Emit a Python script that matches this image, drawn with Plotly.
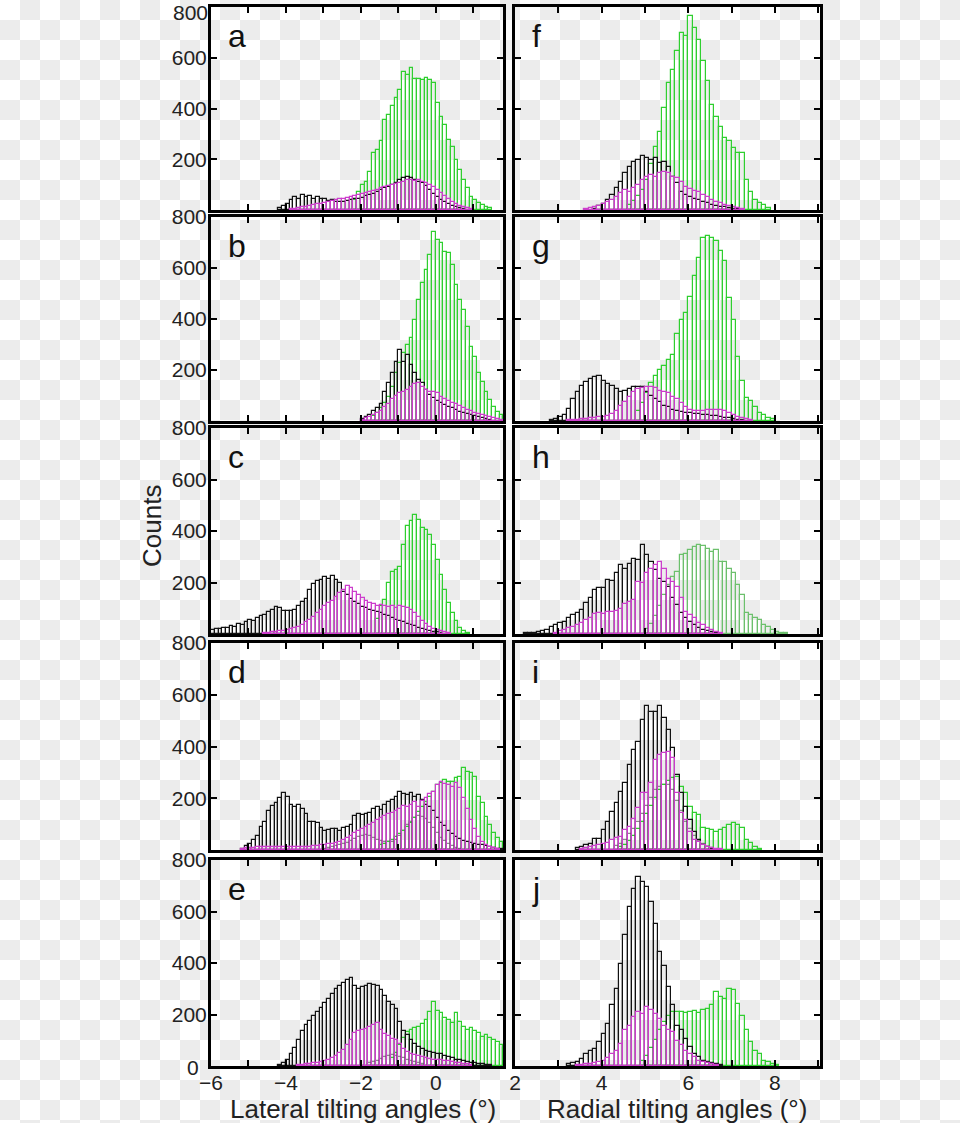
import plotly.graph_objects as go

BIN = 0.1

# ---------------- data (left bin edge of first bin, counts per 0.1 deg bin) ----------------
# Panel a (lateral)
a_green_start = -2.2
a_green = [40, 72, 99, 112, 151, 224, 237, 270, 355, 375, 408, 441, 471, 542, 533, 559, 518, 518, 513,
           520, 513, 500, 421, 368, 335, 276, 250, 197, 158, 118, 86, 53, 39, 26, 20, 12, 6]
a_black_start = -4.2
a_black = [8, 15, 25, 40, 50, 45, 58, 50, 55, 45, 52, 42, 45, 35, 38, 30, 32, 30, 35, 38, 42, 45, 48, 55,
           60, 65, 72, 80, 85, 92, 100, 108, 118, 125, 132, 128, 120, 112, 105, 95, 80, 65, 50, 40, 30,
           22, 15, 10, 6, 3]
a_magenta_start = -3.9
a_magenta = [3, 5, 8, 10, 12, 15, 18, 22, 25, 28, 32, 35, 38, 42, 45, 48, 52, 56, 60, 64, 68, 72, 76, 80,
             85, 90, 94, 98, 102, 108, 112, 118, 120, 115, 118, 110, 105, 100, 92, 80, 68, 55, 42, 32,
             22, 15, 10, 6, 3]

# Panel b
b_green_start = -1.7
b_green = [20, 33, 50, 69, 95, 135, 187, 226, 265, 298, 324, 396, 474, 540, 592, 651, 742, 710, 697,
           664, 657, 612, 533, 474, 435, 370, 291, 252, 187, 154, 115, 82, 56, 37, 24, 17]
b_black_start = -2.0
b_black = [8, 15, 25, 38, 50, 68, 115, 148, 187, 233, 278, 233, 259, 220, 187, 161, 148, 121, 102, 90,
           80, 70, 62, 55, 50, 42, 37, 32, 28, 24, 20, 17, 12, 8, 5]
b_magenta_start = -2.0
b_magenta = [5, 10, 15, 22, 30, 40, 55, 68, 85, 100, 110, 115, 121, 135, 145, 148, 135, 121, 115, 115,
             111, 95, 85, 78, 72, 66, 58, 52, 45, 38, 32, 26, 22, 18, 14, 10, 7, 4]

# Panel c
c_green_start = -1.6
c_green = [60, 107, 133, 200, 240, 250, 262, 346, 419, 440, 462, 442, 410, 404, 384, 346, 288, 230,
           172, 120, 81, 49, 23, 10, 4]
c_black_start = -6.0
c_black = [15, 20, 18, 25, 22, 30, 28, 38, 35, 45, 55, 52, 62, 70, 75, 85, 95, 105, 100, 88, 90, 88,
           92, 110, 125, 135, 170, 195, 205, 210, 220, 215, 226, 210, 200, 165, 150, 135, 125, 115,
           105, 100, 95, 90, 85, 80, 75, 70, 62, 55, 50, 45, 40, 35, 30, 25, 20, 15, 12, 8, 6, 4]
c_magenta_start = -4.6
c_magenta = [3, 5, 6, 8, 10, 12, 15, 18, 22, 28, 35, 45, 55, 65, 80, 95, 110, 120, 130, 145, 160, 170,
             188, 180, 165, 150, 140, 130, 120, 115, 110, 112, 108, 105, 108, 102, 110, 105, 100, 95,
             80, 65, 50, 38, 28, 20, 14, 10, 6, 3]

# Panel d
d_green_start = -1.5
d_green = [20, 25, 30, 40, 50, 60, 75, 90, 105, 125, 145, 165, 185, 205, 226, 250, 258, 271, 264, 264,
           277, 284, 316, 303, 297, 284, 206, 181, 129, 97, 65, 45, 30]
d_black_start = -5.2
d_black = [5, 15, 25, 40, 55, 90, 110, 150, 170, 180, 200, 222, 205, 175, 165, 175, 160, 140, 110, 108,
           105, 85, 72, 78, 82, 80, 72, 85, 90, 97, 130, 140, 135, 140, 142, 160, 168, 155, 175, 185,
           195, 206, 226, 215, 213, 219, 206, 213, 195, 175, 165, 150, 125, 105, 92, 75, 62, 52, 42,
           35, 30, 28, 25, 20, 18, 14, 10, 8, 5, 3]
d_magenta_start = -5.2
d_magenta = [5, 6, 8, 8, 10, 10, 12, 10, 12, 10, 12, 12, 10, 12, 10, 12, 10, 12, 12, 14, 15, 18, 20,
             22, 25, 28, 32, 38, 45, 55, 65, 72, 80, 90, 98, 105, 115, 125, 130, 138, 142, 150, 160,
             170, 165, 175, 185, 168, 190, 200, 215, 225, 250, 264, 255, 250, 245, 258, 240, 200, 160,
             116, 80, 50, 30, 18, 10, 6, 3]
d_gray_start = -3.0
d_gray = [5, 8, 10, 14, 18, 22, 28, 35, 42, 50, 55, 58, 55, 48, 40, 35, 32, 30, 32, 40, 55, 75, 95,
          110, 125, 130, 128, 120, 105, 85, 65, 48, 35, 25, 15, 8, 4]

# Panel e
e_green_start = -1.2
e_green = [30, 50, 80, 110, 133, 140, 146, 153, 165, 179, 211, 250, 215, 205, 185, 179, 166, 204, 170,
           150, 140, 146, 135, 127, 114, 120, 107, 100, 94, 80, 69]
e_black_start = -4.2
e_black = [5, 12, 22, 45, 70, 100, 135, 160, 175, 195, 208, 225, 245, 262, 280, 300, 312, 322, 335, 340,
           310, 298, 305, 312, 318, 314, 310, 295, 270, 250, 238, 220, 170, 135, 120, 100, 85, 72, 65,
           60, 55, 52, 48, 45, 40, 36, 30, 25, 22, 18, 15, 12, 10, 8, 6, 4, 3]
e_magenta_start = -3.7
e_magenta = [3, 5, 6, 8, 10, 12, 15, 20, 25, 32, 40, 50, 62, 80, 100, 127, 135, 140, 145, 150, 159, 166,
             140, 125, 115, 105, 100, 85, 65, 55, 48, 43, 40, 35, 32, 28, 25, 23, 22, 20, 18, 15, 12,
             10, 8, 6, 4]
e_gray_start = -1.8
e_gray = [10, 15, 20, 28, 35, 40, 42, 40, 35, 30, 25, 20, 15, 10, 6]

# Panel f (radial)
f_green_start = 4.6
f_green = [20, 35, 55, 80, 120, 180, 250, 309, 401, 500, 553, 625, 697, 684, 763, 717, 671, 586, 507,
           415, 368, 329, 283, 270, 243, 224, 224, 118, 72, 39, 26, 20, 7]
f_black_start = 3.8
f_black = [5, 15, 25, 40, 60, 86, 112, 145, 171, 191, 197, 211, 204, 197, 204, 184, 191, 171, 132, 105,
           72, 60, 53, 45, 39, 33, 26, 20, 15, 13, 10, 7, 5, 3]
f_magenta_start = 3.6
f_magenta = [3, 6, 10, 15, 22, 30, 40, 53, 68, 79, 72, 85, 99, 118, 132, 138, 132, 145, 151, 145, 132,
             125, 112, 90, 82, 76, 70, 60, 50, 40, 32, 26, 20, 14, 10, 6, 3]

# Panel g
g_green_start = 4.8
g_green = [40, 70, 110, 150, 175, 200, 215, 238, 260, 340, 396, 422, 486, 568, 640, 719, 726, 719, 706,
           667, 627, 482, 396, 251, 158, 92, 79, 53, 33, 24, 13, 6]
g_black_start = 2.8
g_black = [4, 8, 15, 25, 46, 86, 112, 139, 152, 165, 172, 178, 158, 145, 139, 125, 112, 119, 125, 132,
           135, 132, 115, 99, 86, 73, 60, 53, 45, 40, 36, 33, 30, 28, 26, 24, 22, 20, 18, 15, 12, 10,
           7, 5, 3]
g_magenta_start = 3.2
g_magenta = [3, 4, 5, 6, 8, 10, 12, 14, 17, 20, 26, 40, 59, 75, 95, 112, 125, 130, 135, 132, 128, 118,
             112, 108, 95, 88, 70, 55, 45, 40, 38, 40, 42, 45, 44, 42, 38, 30, 22, 15, 10, 6, 3]

# Panel h
h_green_start = 5.0
h_green = [20, 40, 70, 110, 150, 190, 220, 241, 306, 312, 325, 338, 344, 340, 331, 319, 325, 280, 280,
           254, 235, 190, 151, 80, 74, 61, 54, 35, 28, 15, 9, 5, 3]
h_black_start = 2.2
h_black = [2, 3, 5, 8, 12, 15, 28, 35, 41, 48, 61, 74, 80, 93, 119, 138, 170, 177, 177, 209, 205, 235,
           267, 254, 273, 293, 286, 344, 306, 280, 250, 215, 202, 183, 138, 112, 80, 61, 45, 35, 25,
           15, 10, 6, 3]
h_magenta_start = 2.9
h_magenta = [5, 10, 15, 22, 28, 35, 41, 55, 61, 76, 80, 78, 86, 84, 89, 97, 115, 125, 132, 202, 200,
             235, 254, 267, 280, 254, 215, 202, 183, 138, 86, 74, 61, 41, 35, 22, 15, 8, 4]

# Panel i
i_green_start = 4.4
i_green = [10, 20, 35, 55, 80, 110, 140, 170, 200, 230, 250, 265, 280, 284, 245, 219, 168, 142, 135,
           84, 80, 77, 71, 77, 84, 97, 103, 97, 84, 39, 26, 10, 4]
i_black_start = 3.4
i_black = [6, 12, 19, 23, 41, 41, 77, 110, 148, 181, 226, 258, 329, 387, 419, 503, 555, 535, 535, 555,
           510, 464, 393, 290, 219, 168, 116, 71, 39, 19, 10, 5]
i_magenta_start = 3.5
i_magenta = [5, 8, 10, 14, 19, 22, 28, 39, 45, 52, 77, 90, 120, 161, 219, 219, 260, 348, 368, 374, 380,
             355, 219, 142, 116, 71, 39, 32, 19, 12, 8, 5, 3]
i_gray_start = 4.3
i_gray = [15, 25, 40, 60, 80, 110, 140, 170, 200, 230, 245, 250, 250, 230, 190, 150, 110, 80, 55, 35,
          22, 12, 6]

# Panel j
j_green_start = 4.9
j_green = [20, 40, 70, 100, 140, 170, 195, 209, 209, 209, 205, 209, 213, 205, 216, 222, 235, 287, 268,
           261, 300, 294, 242, 196, 138, 93, 60, 45, 21, 15, 8, 4]
j_black_start = 3.2
j_black = [8, 11, 17, 28, 47, 60, 67, 93, 125, 164, 235, 300, 397, 507, 617, 688, 734, 714, 695, 636,
           552, 442, 390, 306, 235, 157, 138, 106, 73, 47, 34, 21, 15, 11, 6, 3]
j_magenta_start = 3.4
j_magenta = [3, 5, 7, 8, 10, 15, 21, 30, 47, 60, 86, 138, 157, 190, 209, 203, 229, 216, 203, 183, 157,
             138, 131, 99, 80, 60, 47, 34, 21, 15, 11, 6, 3]

panel_letters = ["a", "b", "c", "d", "e", "f", "g", "h", "i", "j"]
x_title_left = "Lateral tilting angles (°)"
x_title_right = "Radial tilting angles (°)"
y_title = "Counts"
x_ticks_left = [-6, -5, -4, -3, -2, -1, 0, 1, 2]
x_ticks_right = [2, 3, 4, 5, 6, 7, 8, 9]
y_ticks = [0, 200, 400, 600, 800]

# ---------------- styling ----------------
COL = {
    "green": "#2fcf2f",
    "green_h": "#6cc06c",
    "black": "#111111",
    "magenta": "#cc3dcc",
    "gray": "#8a8a8a",
}
FONT = "Liberation Sans, Arial, Helvetica, sans-serif"
TXT = "#222222"
W, H = 960, 1123
ML, MR, MT, MB = 211, 140, 7, 57
PW, PH = W - ML - MR, H - MT - MB

def px2x(px):
    return (px - ML) / PW

def py2y(py):
    return 1 - (py - MT) / PH

col_px = [(211, 503), (515, 820)]
row_px = [(7, 210), (217, 421), (428, 634), (643, 850), (860, 1066)]

panels = {
    "a": [("green", a_green_start, a_green), ("black", a_black_start, a_black), ("magenta", a_magenta_start, a_magenta)],
    "b": [("green", b_green_start, b_green), ("black", b_black_start, b_black), ("magenta", b_magenta_start, b_magenta)],
    "c": [("green", c_green_start, c_green), ("black", c_black_start, c_black), ("magenta", c_magenta_start, c_magenta)],
    "d": [("gray", d_gray_start, d_gray), ("green", d_green_start, d_green), ("black", d_black_start, d_black), ("magenta", d_magenta_start, d_magenta)],
    "e": [("gray", e_gray_start, e_gray), ("green", e_green_start, e_green), ("black", e_black_start, e_black), ("magenta", e_magenta_start, e_magenta)],
    "f": [("green", f_green_start, f_green), ("black", f_black_start, f_black), ("magenta", f_magenta_start, f_magenta)],
    "g": [("green", g_green_start, g_green), ("black", g_black_start, g_black), ("magenta", g_magenta_start, g_magenta)],
    "h": [("green_h", h_green_start, h_green), ("black", h_black_start, h_black), ("magenta", h_magenta_start, h_magenta)],
    "i": [("gray", i_gray_start, i_gray), ("green", i_green_start, i_green), ("black", i_black_start, i_black), ("magenta", i_magenta_start, i_magenta)],
    "j": [("green", j_green_start, j_green), ("black", j_black_start, j_black), ("magenta", j_magenta_start, j_magenta)],
}

fig = go.Figure()
layout = dict(
    width=W, height=H, autosize=False,
    margin=dict(l=ML, r=MR, t=MT, b=MB, autoexpand=False),
    paper_bgcolor="white", plot_bgcolor="rgba(0,0,0,0)",
    showlegend=False, barmode="overlay", bargap=0,
    font=dict(family=FONT, color=TXT, size=21),
)
annotations = []

for idx, letter in enumerate(panel_letters):
    n = idx + 1
    col = 0 if idx < 5 else 1
    row = idx % 5
    xa = "x" if n == 1 else f"x{n}"
    ya = "y" if n == 1 else f"y{n}"
    for key, start, counts in panels[letter]:
        centers = [start + BIN * (k + 0.5) for k in range(len(counts))]
        fig.add_trace(go.Bar(
            x=centers, y=counts, width=BIN,
            marker=dict(color="rgba(0,0,0,0)", line=dict(color=COL[key], width=1.2)),
            xaxis=xa, yaxis=ya, hoverinfo="skip",
        ))
    xd = [px2x(col_px[col][0]), px2x(col_px[col][1])]
    yd = [py2y(row_px[row][1]), py2y(row_px[row][0])]
    bottom = row == 4
    if col == 0:
        xt = x_ticks_left
        xr = [-6, 1.79]
    else:
        xt = x_ticks_right
        xr = [2, 9.04]
    xtext = [("\u2212" + str(-v) if v < 0 else str(v)) if v % 2 == 0 else "" for v in xt]
    axis_common = dict(
        showline=True, linewidth=3, linecolor="black", mirror="allticks",
        ticks="inside", ticklen=6, tickwidth=2, tickcolor="black",
        showgrid=False, zeroline=False, fixedrange=True, automargin=False,
        tickfont=dict(family=FONT, size=21, color=TXT),
    )
    layout["xaxis" if n == 1 else f"xaxis{n}"] = dict(
        axis_common, domain=xd, range=xr, anchor=ya,
        tickmode="array", tickvals=xt, ticktext=xtext, showticklabels=bottom,
        ticklabelstandoff=-4,
    )
    if row == 0:
        yv = y_ticks[1:-1]   # top "800" of the first row is written below (it sits at the page edge)
    else:
        yv = y_ticks[1:]     # the bottom "0" is written below, offset left as in the original
    layout["yaxis" if n == 1 else f"yaxis{n}"] = dict(
        axis_common, domain=yd, range=[0, 800], anchor=xa,
        tickmode="array", tickvals=yv, ticktext=[str(v) for v in yv], showticklabels=(col == 0),
        ticklabelstandoff=-3,
    )
    annotations.append(dict(
        text=letter, xref=f"{xa} domain", yref=f"{ya} domain", x=0.05, y=0.955,
        xanchor="left", yanchor="top", showarrow=False,
        font=dict(family=FONT, size=32, color="#111111"),
    ))

annotations += [
    dict(text=str(y_ticks[-1]), xref="paper", yref="paper", x=px2x(209), y=py2y(12),
         showarrow=False, xanchor="right", yanchor="middle", borderpad=0,
         font=dict(family=FONT, size=21, color=TXT)),
    dict(text=str(y_ticks[0]), xref="paper", yref="paper", x=px2x(200), y=py2y(1067),
         showarrow=False, xanchor="right", yanchor="middle", borderpad=0,
         font=dict(family=FONT, size=21, color=TXT)),
    dict(text=y_title, xref="paper", yref="paper", x=px2x(152), y=py2y(526), textangle=-90,
         showarrow=False, xanchor="center", yanchor="middle", font=dict(family=FONT, size=26, color=TXT)),
    dict(text=x_title_left, xref="paper", yref="paper", x=px2x(363), y=py2y(1109),
         showarrow=False, xanchor="center", yanchor="middle", font=dict(family=FONT, size=26, color=TXT)),
    dict(text=x_title_right, xref="paper", yref="paper", x=px2x(677), y=py2y(1109),
         showarrow=False, xanchor="center", yanchor="middle", font=dict(family=FONT, size=26, color=TXT)),
]
layout["annotations"] = annotations

# transparent-image checkerboard background (decorative)
CELL = 20
parts = []
for j in range(0, H // CELL + 1):
    for i in range(0, W // CELL + 1):
        if (i + j) % 2 == 1:
            x0, x1 = px2x(i * CELL), px2x((i + 1) * CELL)
            y0, y1 = py2y(j * CELL), py2y((j + 1) * CELL)
            parts.append(f"M{x0:.5f},{y0:.5f}L{x1:.5f},{y0:.5f}L{x1:.5f},{y1:.5f}L{x0:.5f},{y1:.5f}Z")
layout["shapes"] = [dict(type="path", path="".join(parts), xref="paper", yref="paper",
                         fillcolor="#ececec", line=dict(width=0), layer="below")]

fig.update_layout(**layout)
fig.write_html(
    "out.html",
    config={"displayModeBar": False},
    post_script="document.body.style.margin='0';document.body.style.overflow='hidden';",
)
